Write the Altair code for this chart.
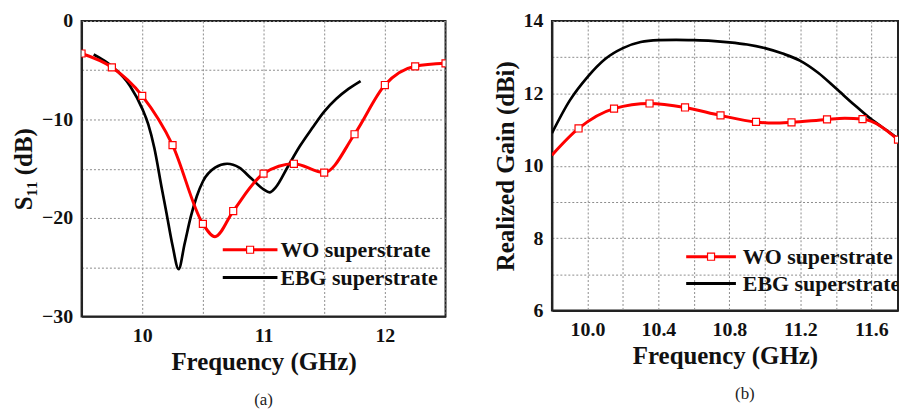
import altair as alt
import pandas as pd

FONT = "Liberation Serif"

# ---------------- Panel (a): S11 ----------------
wo_a_mk_f = [9.5, 9.75, 10.0, 10.25, 10.5, 10.75, 11.0, 11.25, 11.5, 11.75, 12.0, 12.25, 12.5]
wo_a_mk_s = [-3.3, -4.7, -7.6, -12.6, -20.6, -19.3, -15.5, -14.5, -15.4, -11.5, -6.5, -4.6, -4.3]
wo_a_ex_f = [10.6]
wo_a_ex_s = [-21.9]

ebg_a_f = [9.6, 9.75, 9.9, 10.0, 10.05, 10.1, 10.16, 10.2, 10.25, 10.3, 10.35, 10.4, 10.45,
           10.5, 10.6, 10.7, 10.8, 10.9, 11.0, 11.05, 11.1, 11.2, 11.3, 11.4, 11.5, 11.6, 11.7, 11.8]
ebg_a_s = [-3.4, -4.6, -6.6, -8.9, -10.5, -12.9, -16.9, -19.5, -22.8, -25.2, -22.6, -19.9, -17.8,
           -16.3, -14.9, -14.5, -14.9, -16.0, -17.1, -17.4, -16.9, -14.8, -12.7, -10.9, -9.2, -7.9, -6.9, -6.1]

# ---------------- Panel (b): Realized gain ----------------
wo_b_mk_f = [9.95, 10.15, 10.35, 10.55, 10.75, 10.95, 11.15, 11.35, 11.55, 11.75]
wo_b_mk_g = [11.03, 11.58, 11.72, 11.61, 11.39, 11.21, 11.20, 11.28, 11.29, 10.72]
wo_b_ex_f = [9.8, 11.05, 11.45]
wo_b_ex_g = [10.29, 11.18, 11.31]

ebg_b_f = [9.8, 9.9, 10.0, 10.1, 10.2, 10.3, 10.4, 10.5, 10.6, 10.7, 10.8, 10.9, 11.0,
           11.1, 11.2, 11.3, 11.4, 11.5, 11.6, 11.7, 11.75]
ebg_b_g = [10.9, 11.8, 12.45, 12.95, 13.25, 13.42, 13.47, 13.48, 13.47, 13.45, 13.41, 13.35, 13.25,
           13.1, 12.9, 12.57, 12.14, 11.7, 11.28, 10.93, 10.75]

legend_labels = ["WO superstrate", "EBG superstrate"]
colors = ["#ff0000", "#000000"]

a_x_ticks = [9.5, 10.0, 10.5, 11.0, 11.5, 12.0, 12.5]
a_y_ticks = [-30, -25, -20, -15, -10, -5, 0]
b_x_ticks = [9.8, 10.0, 10.2, 10.4, 10.6, 10.8, 11.0, 11.2, 11.4, 11.6]
b_y_ticks = [6, 7, 8, 9, 10, 11, 12, 13, 14]


def frame(f, v, series):
    return pd.DataFrame({"f": f, "v": v, "series": series})


wo_a_line = frame(wo_a_mk_f + wo_a_ex_f, wo_a_mk_s + wo_a_ex_s, legend_labels[0]).sort_values("f")
wo_a_mk = frame(wo_a_mk_f, wo_a_mk_s, legend_labels[0])
ebg_a = frame(ebg_a_f, ebg_a_s, legend_labels[1])

wo_b_line = frame(wo_b_mk_f + wo_b_ex_f, wo_b_mk_g + wo_b_ex_g, legend_labels[0]).sort_values("f")
wo_b_mk = frame(wo_b_mk_f, wo_b_mk_g, legend_labels[0])
ebg_b = frame(ebg_b_f, ebg_b_g, legend_labels[1])

axis_common = dict(
    labelFont=FONT, labelFontSize=20, labelFontWeight="bold", labelColor="#111",
    titleFont=FONT, titleFontSize=25, titleFontWeight="bold", titleColor="#111",
    grid=True, gridColor="#8c8c8c", gridDash=[2, 2], gridWidth=1, gridOpacity=1,
    domainColor="#222", domainWidth=2, ticks=False, tickSize=0,
)


def panel(line_wo, mk_wo, line_ebg, xdom, ydom, xticks, yticks, xlabel_expr, ylabel_expr,
          xfmt, ytitle, width, height, leg, caption, caption_dx):
    x = alt.X("f:Q", scale=alt.Scale(domain=xdom, nice=False, zero=False),
              axis=alt.Axis(values=xticks, format=xfmt, labelExpr=xlabel_expr,
                            title="Frequency (GHz)", labelPadding=9, titlePadding=4,
                            labelFlush=False, **axis_common))
    y = alt.Y("v:Q", scale=alt.Scale(domain=ydom, nice=False, zero=False),
              axis=alt.Axis(values=yticks, labelExpr=ylabel_expr, title=ytitle,
                            labelPadding=9, titlePadding=5, labelFlush=False, **axis_common))

    red_line = alt.Chart(line_wo).mark_line(
        color=colors[0], strokeWidth=3, interpolate="monotone", clip=True
    ).encode(x=x, y=y)
    red_pts = alt.Chart(mk_wo).mark_point(
        shape="square", filled=True, fill="white", stroke=colors[0], strokeWidth=1.2,
        size=50, opacity=1, clip=True
    ).encode(x=x, y=y)
    black_line = alt.Chart(line_ebg).mark_line(
        color=colors[1], strokeWidth=2.7, interpolate="monotone", clip=True
    ).encode(x=x, y=y)

    lx0, lx1, ltx, ly0, ly1 = leg
    layers = [black_line, red_line, red_pts]
    # manual legend
    layers.append(alt.Chart().mark_rule(color=colors[0], strokeWidth=3, clip=True).encode(
        x=alt.value(lx0), x2=alt.value(lx1), y=alt.value(ly0)))
    layers.append(alt.Chart().mark_point(
        shape="square", filled=True, fill="white", stroke=colors[0], strokeWidth=1.2,
        size=50, opacity=1, clip=True).encode(x=alt.value((lx0 + lx1) / 2), y=alt.value(ly0)))
    layers.append(alt.Chart().mark_rule(color=colors[1], strokeWidth=3, clip=True).encode(
        x=alt.value(lx0), x2=alt.value(lx1), y=alt.value(ly1)))
    for lab, yy in zip(legend_labels, [ly0, ly1]):
        layers.append(alt.Chart().mark_text(
            font=FONT, fontSize=22, fontWeight="bold", color="#111", align="left",
            baseline="middle", clip=True).encode(
            x=alt.value(ltx), y=alt.value(yy), text=alt.value(lab)))

    return alt.layer(*layers).properties(
        width=width, height=height,
        title=alt.TitleParams(caption, orient="bottom", font=FONT, fontSize=17,
                              fontWeight="normal", color="#222", offset=18, dx=caption_dx),
        view=alt.ViewBackground(stroke="#222", strokeWidth=2),
    )


chart_a = panel(wo_a_line, wo_a_mk, ebg_a, [9.5, 12.5], [-30, 0], a_x_ticks, a_y_ticks,
                "datum.value % 1 == 0 ? datum.label : ''",
                "datum.value % 10 == 0 ? datum.label : ''",
                ".0f", "S₁₁ (dB)", 366, 297, (142, 197, 200, 230, 258), "(a)", 0)

chart_b = panel(wo_b_line, wo_b_mk, ebg_b, [9.8, 11.75], [6, 14], b_x_ticks, b_y_ticks,
                "round(datum.value * 10) % 4 == 0 ? datum.label : ''",
                "datum.value % 2 == 0 ? datum.label : ''",
                ".1f", "Realized Gain (dBi)", 348, 291, (135, 185, 192, 237, 264), "(b)", 20)

chart = alt.hconcat(chart_a, chart_b, spacing=46).properties(
    padding={"left": 10, "top": 9, "right": 0, "bottom": 0},
    background="white",
).configure_view(stroke="#222", strokeWidth=2)

chart.save("out.html", embed_options={"renderer": "svg", "actions": False})
